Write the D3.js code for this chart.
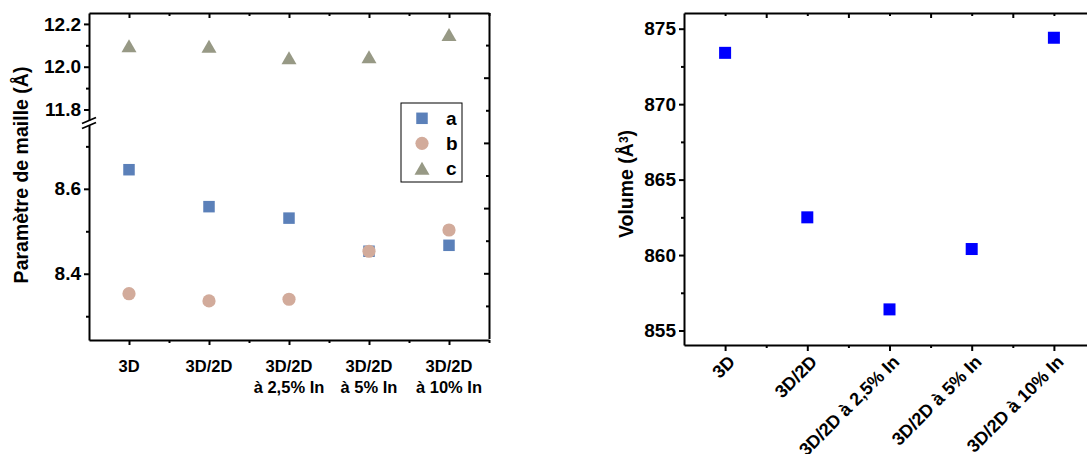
<!DOCTYPE html>
<html><head><meta charset="utf-8">
<script src="https://cdn.jsdelivr.net/npm/d3@7"></script>
<style>
body{margin:0;background:#fff;}
text{font-family:"Liberation Sans",Arial,sans-serif;font-weight:bold;fill:#000;}
</style></head>
<body><svg id="c" width="1087" height="454"></svg>
<script>
// ---- data ----
const categories = ["3D", "3D/2D", "3D/2D à 2,5% In", "3D/2D à 5% In", "3D/2D à 10% In"];
const categoryLines = [["3D"], ["3D/2D"], ["3D/2D", "à 2,5% In"], ["3D/2D", "à 5% In"], ["3D/2D", "à 10% In"]];
const seriesNames = ["a", "b", "c"];
const seriesA = [8.645, 8.558, 8.531, 8.453, 8.467];
const seriesB = [8.353, 8.336, 8.340, 8.453, 8.503];
const seriesC = [12.098, 12.096, 12.042, 12.047, 12.151];
const volume = [873.4, 862.5, 856.4, 860.4, 874.4];
const upperTicks = [11.8, 12.0, 12.2];
const upperMinor = [11.9, 12.1];
const lowerTicks = [8.4, 8.6];
const lowerMinor = [8.3, 8.5, 8.7];
const volTicks = [855, 860, 865, 870, 875];
const volMinor = [857.5, 862.5, 867.5, 872.5];

const colA = "#5b80b9", colB = "#d2ab9b", colC = "#979985", colV = "#0000ff";
const svg = d3.select("#c");
const idx = [1, 2, 3, 4, 5];
const mid = [1.5, 2.5, 3.5, 4.5, 5.5];

function styleAxis(g) {
  g.selectAll("path.domain").attr("stroke", "#000").attr("stroke-width", 2);
  g.selectAll(".tick line").attr("stroke", "#000").attr("stroke-width", 2);
  g.selectAll(".tick text").style("font-size", "19px").style("font-weight", "bold")
    .style("font-family", "Liberation Sans, Arial, sans-serif").attr("fill", "#000");
  return g;
}

// ================= LEFT CHART =================
const L = {x0: 89, x1: 489, y0: 13, y1: 340, brk: 123};
const xL = d3.scaleLinear().domain([0.5, 5.5]).range([L.x0, L.x1]);
const yTop = d3.scaleLinear().domain([11.737, 12.251]).range([L.brk, L.y0]);
const yBot = d3.scaleLinear().domain([8.244, 8.755]).range([L.y1, L.brk]);
const yRight = d3.scaleLinear().domain([0, 10]).range([338.5, 12.5]);

const gl = svg.append("g");
// bottom axis
styleAxis(gl.append("g").attr("transform", `translate(0,${L.y1})`)
  .call(d3.axisBottom(xL).tickValues(idx).tickSize(5).tickSizeOuter(0).tickFormat("")));
styleAxis(gl.append("g").attr("transform", `translate(0,${L.y1})`)
  .call(d3.axisBottom(xL).tickValues(mid).tickSize(3).tickSizeOuter(0).tickFormat("")))
  .select(".domain").remove();
// top axis (inward)
styleAxis(gl.append("g").attr("transform", `translate(0,${L.y0})`)
  .call(d3.axisTop(xL).tickValues(idx).tickSize(-5).tickSizeOuter(0).tickFormat("")));
styleAxis(gl.append("g").attr("transform", `translate(0,${L.y0})`)
  .call(d3.axisTop(xL).tickValues(mid).tickSize(-3).tickSizeOuter(0).tickFormat("")))
  .select(".domain").remove();
// right axis (inward ticks)
styleAxis(gl.append("g").attr("transform", `translate(${L.x1},0)`)
  .call(d3.axisRight(yRight).tickValues([2, 4, 6, 8]).tickSize(-5).tickSizeOuter(0).tickFormat("")));
styleAxis(gl.append("g").attr("transform", `translate(${L.x1},0)`)
  .call(d3.axisRight(yRight).tickValues([1, 3, 5, 7, 9]).tickSize(-3).tickSizeOuter(0).tickFormat("")))
  .select(".domain").remove();
// left axes (broken)
styleAxis(gl.append("g").attr("transform", `translate(${L.x0},0)`)
  .call(d3.axisLeft(yTop).tickValues(upperTicks).tickSize(5).tickSizeOuter(0).tickPadding(3).tickFormat(d3.format(".1f"))));
styleAxis(gl.append("g").attr("transform", `translate(${L.x0},0)`)
  .call(d3.axisLeft(yTop).tickValues(upperMinor).tickSize(3).tickSizeOuter(0).tickFormat("")))
  .select(".domain").remove();
styleAxis(gl.append("g").attr("transform", `translate(${L.x0},0)`)
  .call(d3.axisLeft(yBot).tickValues(lowerTicks).tickSize(5).tickSizeOuter(0).tickPadding(3).tickFormat(d3.format(".1f"))));
styleAxis(gl.append("g").attr("transform", `translate(${L.x0},0)`)
  .call(d3.axisLeft(yBot).tickValues(lowerMinor).tickSize(3).tickSizeOuter(0).tickFormat("")))
  .select(".domain").remove();
// break marks
gl.append("rect").attr("x", L.x0 - 8).attr("y", L.brk - 2.5).attr("width", 16).attr("height", 5).attr("fill", "#fff");
[-2.5, 2.5].forEach(o => {
  gl.append("line").attr("x1", L.x0 - 7).attr("y1", L.brk + o + 3).attr("x2", L.x0 + 7).attr("y2", L.brk + o - 3)
    .attr("stroke", "#000").attr("stroke-width", 1.8);
});
// x labels
categoryLines.forEach((lines, i) => {
  const t = gl.append("text").attr("text-anchor", "middle").style("font-size", "16.5px");
  lines.forEach((s, k) => {
    t.append("tspan").attr("x", xL(i + 1)).attr("y", 371.5 + k * 21.5).text(s);
  });
});
// y title
gl.append("text").attr("transform", `translate(28,175) rotate(-90)`).attr("text-anchor", "middle")
  .style("font-size", "19.5px").text("Paramètre de maille (Å)");

// markers
const sq = 11.5;
gl.append("g").selectAll("rect").data(seriesA).join("rect")
  .attr("x", (d, i) => xL(i + 1) - sq / 2).attr("y", d => yBot(d) - sq / 2)
  .attr("width", sq).attr("height", sq).attr("fill", colA);
gl.append("g").selectAll("circle").data(seriesB).join("circle")
  .attr("cx", (d, i) => xL(i + 1)).attr("cy", d => yBot(d)).attr("r", 6.6).attr("fill", colB);
const tw = 15, th = 13;
const triPath = `M0,${-th / 2}L${tw / 2},${th / 2}L${-tw / 2},${th / 2}Z`;
gl.append("g").selectAll("path").data(seriesC).join("path")
  .attr("transform", (d, i) => `translate(${xL(i + 1)},${yTop(d)})`).attr("d", triPath).attr("fill", colC);

// legend
const lg = gl.append("g");
lg.append("rect").attr("x", 401).attr("y", 103).attr("width", 61).attr("height", 79)
  .attr("fill", "#fff").attr("stroke", "#000").attr("stroke-width", 1);
const legY = [118.3, 143.3, 168.3];
lg.append("rect").attr("x", 422 - sq / 2).attr("y", legY[0] - sq / 2).attr("width", sq).attr("height", sq).attr("fill", colA);
lg.append("circle").attr("cx", 422).attr("cy", legY[1]).attr("r", 6.6).attr("fill", colB);
lg.append("path").attr("transform", `translate(422,${legY[2]})`).attr("d", triPath).attr("fill", colC);
seriesNames.forEach((n, i) => {
  lg.append("text").attr("x", 446).attr("y", legY[i]).attr("dy", "0.36em").style("font-size", "19px").text(n);
});

// ================= RIGHT CHART =================
const R = {x0: 684, x1: 1095, y0: 13, y1: 345};
const xR = d3.scaleLinear().domain([0.5, 5.5]).range([R.x0, R.x1]);
const yV = d3.scaleLinear().domain([854.04, 876.04]).range([R.y1, R.y0]);
const gr = svg.append("g");
styleAxis(gr.append("g").attr("transform", `translate(0,${R.y1})`)
  .call(d3.axisBottom(xR).tickValues(idx).tickSize(6).tickSizeOuter(0).tickFormat("")));
styleAxis(gr.append("g").attr("transform", `translate(0,${R.y1})`)
  .call(d3.axisBottom(xR).tickValues(mid).tickSize(3).tickSizeOuter(0).tickFormat("")))
  .select(".domain").remove();
styleAxis(gr.append("g").attr("transform", `translate(0,${R.y0})`)
  .call(d3.axisTop(xR).tickValues(idx).tickSize(-3).tickSizeOuter(0).tickFormat("")));
styleAxis(gr.append("g").attr("transform", `translate(0,${R.y0})`)
  .call(d3.axisTop(xR).tickValues(mid).tickSize(-5).tickSizeOuter(0).tickFormat("")))
  .select(".domain").remove();
styleAxis(gr.append("g").attr("transform", `translate(${R.x0},0)`)
  .call(d3.axisLeft(yV).tickValues(volTicks).tickSize(5).tickSizeOuter(0).tickPadding(3).tickFormat(d3.format("d"))));
styleAxis(gr.append("g").attr("transform", `translate(${R.x0},0)`)
  .call(d3.axisLeft(yV).tickValues(volMinor).tickSize(3).tickSizeOuter(0).tickFormat("")))
  .select(".domain").remove();
styleAxis(gr.append("g").attr("transform", `translate(${R.x1},0)`)
  .call(d3.axisRight(yV).tickValues(volTicks).tickSize(-5).tickSizeOuter(0).tickFormat("")));
// rotated x labels
categories.forEach((s, i) => {
  gr.append("text").attr("text-anchor", "end")
    .attr("transform", `translate(${xR(i + 1) + 11},${363}) rotate(-45)`)
    .style("font-size", "18px").text(s);
});
gr.append("text").attr("transform", `translate(633,184) rotate(-90)`).attr("text-anchor", "middle")
  .style("font-size", "19.5px")
  .call(t => {
    t.append("tspan").text("Volume (Å");
    t.append("tspan").attr("dy", "-0.45em").style("font-size", "12px").text("3");
    t.append("tspan").attr("dy", "0.3em").text(")");
  });
gr.append("g").selectAll("rect").data(volume).join("rect")
  .attr("x", (d, i) => xR(i + 1) - 6).attr("y", d => yV(d) - 6)
  .attr("width", 12).attr("height", 12).attr("fill", colV);
</script></body></html>
